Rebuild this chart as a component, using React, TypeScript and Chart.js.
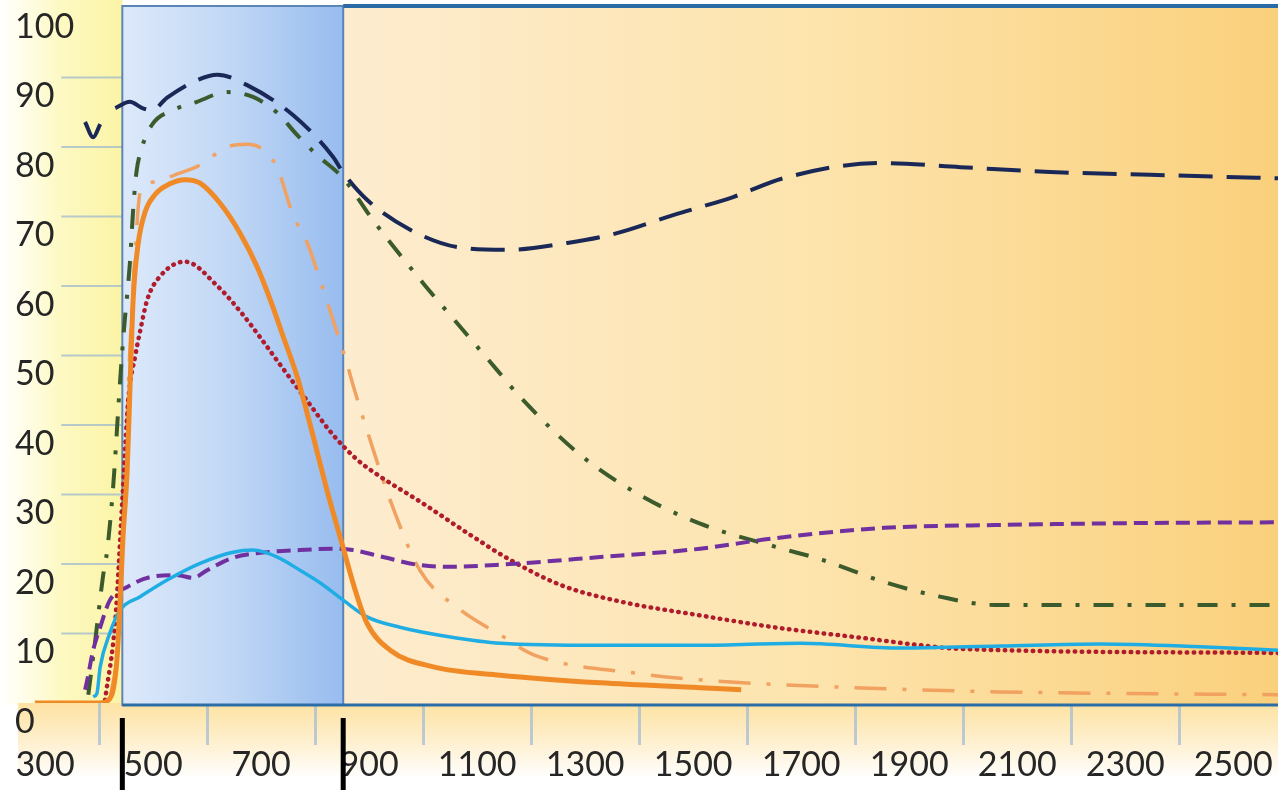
import React, { useEffect, useRef } from 'react';
import { Chart, registerables } from 'chart.js';

Chart.register(...registerables);

// ---- axis ticks ----
const xTickValues = [300, 400, 500, 600, 700, 800, 900, 1000, 1100, 1200, 1300, 1400, 1500, 1600, 1700, 1800, 1900, 2000, 2100, 2200, 2300, 2400, 2500];
const xMin = 235;
const xMax = 2583;
const yMin = 0;
const yMax = 100;
const yStep = 10;

// visible band (blue box) in axis units
const visStart = 443;
const visEnd = 852;

// ---- series (x in nm as labelled, y in %) ----
const navyX = [374, 389, 402, 415, 430, 457, 480, 498, 526, 581, 619, 674, 759, 833, 852, 896, 976, 1063, 1156, 1267, 1359, 1463, 1574, 1667, 1846, 1995, 2161, 2346, 2583];
const navyY = [83.6, 81.4, 83.3, null, 85.6, 86.5, 85.6, 85.3, 87.1, 89.6, 90.4, 88.9, 84.6, 78.6, 76.3, 72.4, 68.1, 65.6, 65.2, 66.2, 67.6, 70.2, 72.8, 75.5, 77.7, 77.1, 76.4, 76.0, 75.5];

const greenX = [380, 393, 407, 415, 426, 439, 446, 457, 463, 469, 478, 498, 537, 581, 637, 685, 730, 767, 804, 852, 907, 1000, 1069, 1137, 1180, 1291, 1402, 1513, 1656, 1739, 1854, 1957, 2059, 2583];
const greenY = [1.2, 9.1, 18.1, 22.0, 31.1, 46.5, 53.7, 63.3, 70.9, 76.3, 79.6, 83.2, 85.3, 86.5, 87.9, 87.2, 84.9, 81.7, 78.8, 75.5, 69.5, 60.4, 54.1, 47.9, 44.0, 35.7, 29.9, 25.8, 22.4, 20.6, 17.4, 15.3, 14.1, 14.1];

const orangeX = [281, 402, 417, 426, 433, 439, 444, 452, 457, 463, 472, 485, 504, 531, 559, 587, 624, 661, 693, 717, 741, 767, 791, 822, 852, 874, 896, 939, 1019, 1143, 1328, 1513, 1589];
const orangeY = [0, 0, 0.4, 1.9, 6.2, 14.8, 23.5, 33.5, 45.0, 58.0, 65.9, 70.6, 73.2, 74.7, 75.3, 74.8, 71.9, 67.6, 62.7, 58.0, 52.7, 46.9, 40.0, 30.6, 22.3, 16.3, 11.5, 7.6, 5.2, 4.0, 2.9, 2.2, 1.9];

const orangeDashX = [420, 435, 446, 457, 467, 476, 504, 541, 587, 637, 674, 704, 730, 759, 785, 809, 841, 861, 870, 902, 939, 994, 1069, 1143, 1206, 1393, 1517, 1767, 2067, 2409, 2583];
const orangeDashY = [0.4, 9.1, 29.2, 50.8, 65.2, 73.4, 75.0, 76.0, 77.4, 80.0, 80.4, 79.6, 77.0, 70.2, 66.3, 60.9, 53.2, 48.3, 45.8, 37.8, 29.2, 19.1, 13.4, 9.8, 6.9, 4.3, 3.3, 2.3, 1.6, 1.3, 1.2];

const redX = [411, 430, 443, 454, 467, 476, 489, 513, 559, 619, 667, 704, 735, 785, 833, 878, 920, 994, 1087, 1161, 1254, 1365, 1513, 1650, 1820, 1922, 1991, 2583];
const redY = [0.4, 11.9, 29.2, 43.6, 50.0, 53.5, 58.0, 61.4, 63.5, 60.0, 55.8, 52.0, 48.7, 43.5, 38.6, 35.0, 32.6, 29.0, 24.2, 20.6, 17.0, 14.6, 12.6, 10.9, 9.3, 8.3, 7.8, 7.2];

const cyanX = [389, 396, 402, 420, 439, 476, 526, 587, 648, 685, 730, 772, 809, 852, 896, 957, 1050, 1143, 1328, 1513, 1698, 1883, 2069, 2254, 2439, 2583];
const cyanY = [0.9, 1.4, 5.2, 10.1, 13.4, 15.3, 17.7, 20.1, 21.7, 22.0, 21.0, 19.1, 17.3, 14.8, 12.4, 10.9, 9.5, 8.6, 8.3, 8.3, 8.6, 7.9, 8.2, 8.5, 8.1, 7.6];

const purpleX = [374, 378, 389, 402, 420, 452, 494, 544, 574, 600, 648, 698, 772, 833, 870, 926, 989, 1050, 1143, 1328, 1513, 1650, 1854, 2059, 2333, 2583];
const purpleY = [1.9, 3.3, 7.6, 10.9, 14.8, 16.7, 18.1, 18.4, 18.0, 19.1, 20.9, 21.6, 22.0, 22.2, 22.0, 21.0, 19.9, 19.6, 19.9, 21.0, 22.2, 23.7, 25.2, 25.6, 25.9, 26.0];

const zip = (xs: number[], ys: (number | null)[]) => xs.map((x, i) => ({ x, y: ys[i] }));

const FONT = 'Lato, "Open Sans", sans-serif';

const bgPlugin = {
  id: 'bgPlugin',
  beforeDraw(chart: any) {
    const { ctx, chartArea: a, scales } = chart;
    const xs = scales.x;
    const W = chart.width;
    const H = chart.height;
    const bx0 = xs.getPixelForValue(visStart);
    ctx.save();
    ctx.fillStyle = '#ffffff';
    ctx.fillRect(0, 0, W, H);
    // yellow strip at left
    let g = ctx.createLinearGradient(0, 0, bx0, 0);
    g.addColorStop(0, '#ffffff');
    g.addColorStop(0.2, '#fffde8');
    g.addColorStop(0.5, '#fdf9c2');
    g.addColorStop(1, '#fbf4a6');
    ctx.fillStyle = g;
    ctx.fillRect(0, 0, bx0, a.bottom + 2);
    // band under the axis
    g = ctx.createLinearGradient(0, a.bottom, 0, a.bottom + 75);
    g.addColorStop(0, '#fde2a2');
    g.addColorStop(0.5, '#feefcd');
    g.addColorStop(1, '#ffffff');
    ctx.fillStyle = g;
    ctx.fillRect(18, a.bottom, W - 18, 75);
    ctx.restore();
  },
  beforeDatasetsDraw(chart: any) {
    const { ctx, chartArea: a, scales } = chart;
    const xs = scales.x;
    const ys = scales.y;
    const W = chart.width;
    const bx0 = xs.getPixelForValue(visStart);
    const bx1 = xs.getPixelForValue(visEnd);
    const top = a.top - 2;
    const bot = a.bottom + 2;
    ctx.save();
    // short grid lines in the yellow strip
    const gx0 = xs.getPixelForValue(330);
    ctx.strokeStyle = 'rgba(160,185,205,0.75)';
    ctx.lineWidth = 2;
    for (let v = yMin + yStep; v < yMax; v += yStep) {
      const py = ys.getPixelForValue(v);
      ctx.beginPath();
      ctx.moveTo(gx0, py);
      ctx.lineTo(bx0, py);
      ctx.stroke();
    }
    // orange region
    let g = ctx.createLinearGradient(bx1, 0, W, 0);
    g.addColorStop(0, '#fdeccf');
    g.addColorStop(0.5, '#fde4ad');
    g.addColorStop(1, '#fad07c');
    ctx.fillStyle = g;
    ctx.fillRect(bx1, top, W - bx1, bot - top);
    // blue visible box
    g = ctx.createLinearGradient(bx0, 0, bx1, 0);
    g.addColorStop(0, '#dde9fa');
    g.addColorStop(0.5, '#c0d7f5');
    g.addColorStop(1, '#97bcef');
    ctx.fillStyle = g;
    ctx.fillRect(bx0, top, bx1 - bx0, bot - top);
    ctx.strokeStyle = '#5a85b6';
    ctx.lineWidth = 2;
    ctx.strokeRect(bx0, top, bx1 - bx0, bot - top);
    // top border of orange region
    ctx.strokeStyle = '#2a6aa5';
    ctx.lineWidth = 4;
    ctx.beginPath();
    ctx.moveTo(bx1, top);
    ctx.lineTo(W, top);
    ctx.stroke();
    // bottom border
    ctx.strokeStyle = '#2d6da6';
    ctx.lineWidth = 3;
    ctx.beginPath();
    ctx.moveTo(bx0, bot);
    ctx.lineTo(W, bot);
    ctx.stroke();
    ctx.restore();
  },
  afterDraw(chart: any) {
    const { ctx, chartArea: a, scales } = chart;
    const xs = scales.x;
    ctx.save();
    ctx.fillStyle = '#000000';
    [visStart, visEnd].forEach((v) => {
      const px = xs.getPixelForValue(v);
      ctx.fillRect(px - 2.5, a.bottom + 15, 5, chart.height - a.bottom - 15);
    });
    ctx.restore();
  },
};

export default function App() {
  const canvasRef = useRef<HTMLCanvasElement | null>(null);

  useEffect(() => {
    if (!canvasRef.current) return;
    const common = {
      pointRadius: 0,
      fill: false,
      cubicInterpolationMode: 'monotone' as const,
      spanGaps: false,
    };
    const chart = new Chart(canvasRef.current, {
      type: 'line',
      data: {
        datasets: [
          { ...common, label: 'orange', data: zip(orangeX, orangeY), borderColor: '#ef8a27', borderWidth: 5 },
          { ...common, label: 'cyan', data: zip(cyanX, cyanY), borderColor: '#1fade3', borderWidth: 3.5 },
          { ...common, label: 'purple', data: zip(purpleX, purpleY), borderColor: '#7030a0', borderWidth: 4, borderDash: [14, 7] },
          { ...common, label: 'red', data: zip(redX, redY), borderColor: '#b01c2c', borderWidth: 4.5, borderDash: [0.5, 6.5], borderCapStyle: 'round' as const },
          { ...common, label: 'orangeDash', data: zip(orangeDashX, orangeDashY), borderColor: '#f1a160', borderWidth: 3.5, borderDash: [32, 16, 4, 16] },
          { ...common, label: 'green', data: zip(greenX, greenY), borderColor: '#3b5b2c', borderWidth: 4, borderDash: [20, 14, 4, 14] },
          { ...common, label: 'navy', data: zip(navyX, navyY), borderColor: '#1a2858', borderWidth: 4, borderDash: [34, 14] },
        ],
      },
      options: {
        responsive: false,
        animation: false,
        layout: { padding: { top: 8, left: 0, right: 0, bottom: 0 } },
        plugins: {
          legend: { display: false },
          tooltip: { enabled: false },
          title: { display: false },
        },
        scales: {
          x: {
            type: 'linear',
            min: xMin,
            max: xMax,
            afterBuildTicks: (scale: any) => {
              scale.ticks = xTickValues.map((v) => ({ value: v }));
            },
            afterFit: (scale: any) => {
              scale.height = 87;
              scale.paddingLeft = 0;
              scale.paddingRight = 0;
            },
            border: { display: false },
            grid: {
              drawOnChartArea: false,
              drawTicks: true,
              tickLength: 42,
              tickWidth: 3,
              tickColor: (ctx: any) =>
                ctx.tick && (ctx.tick.value / 100) % 2 === 0 ? 'rgba(165,190,210,0.75)' : 'rgba(0,0,0,0)',
            },
            ticks: {
              autoSkip: false,
              maxRotation: 0,
              padding: 0,
              color: '#262626',
              font: { family: FONT, size: 34 },
              callback: (v: any) => ((Number(v) / 100) % 2 === 1 ? String(v) : ''),
            },
          },
          y: {
            type: 'linear',
            min: yMin,
            max: yMax,
            afterFit: (scale: any) => {
              scale.width = 10;
              scale.paddingTop = 0;
              scale.paddingBottom = 0;
            },
            border: { display: false },
            grid: { display: false, drawTicks: false },
            ticks: {
              stepSize: yStep,
              mirror: true,
              padding: 5,
              labelOffset: 19,
              color: '#262626',
              font: { family: FONT, size: 34 },
            },
          },
        },
      },
      plugins: [bgPlugin],
    });
    return () => chart.destroy();
  }, []);

  return (
    <div style={{ position: 'fixed', left: 0, top: 0, width: 1278, height: 790, background: '#fff' }}>
      <canvas ref={canvasRef} width={1278} height={790} />
    </div>
  );
}
